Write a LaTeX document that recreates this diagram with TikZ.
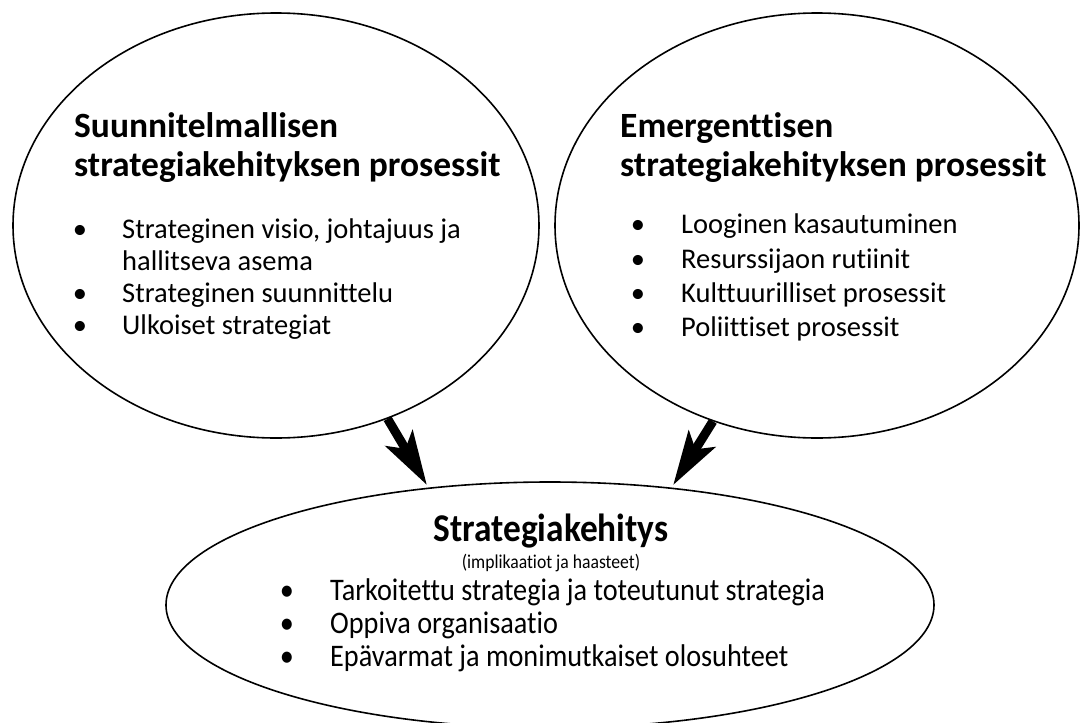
\documentclass[tikz,border=0pt]{standalone}
\usepackage{fontspec}
\setmainfont{Carlito}[Ligatures=NoCommon]
\newfontfamily\narrowfont[FakeStretch=0.9,Ligatures=NoCommon]{Carlito}
\usetikzlibrary{shapes.geometric,arrows.meta}

\tikzset{
  oval/.style={draw, ellipse, line width=1.6pt, inner sep=0pt},
  head/.style={anchor=base west, inner sep=0pt, font=\fontsize{35.5}{40}\selectfont\bfseries},
  item/.style={anchor=base west, inner sep=0pt, font=\fontsize{28.5}{34}\selectfont},
  dot/.style={anchor=base, inner sep=0pt, font=\fontsize{28.5}{34}\selectfont},
  devitem/.style={anchor=base west, inner sep=0pt, font=\narrowfont\fontsize{31.4}{36}\selectfont},
  devdot/.style={anchor=base, inner sep=0pt, font=\narrowfont\fontsize{31.4}{36}\selectfont},
  bigarrow/.style={line width=9pt, -{Stealth[length=54pt,width=31pt,inset=12pt]}}
}

\begin{document}
\begin{tikzpicture}[x=1pt,y=-1pt]
\useasboundingbox (0,0) rectangle (1080,723);
% the three ovals
\node[oval, minimum width=526pt, minimum height=425pt] (plan) at (276,225.5) {};
\node[oval, minimum width=524pt, minimum height=425pt] (emerg) at (817,225.5) {};
\node[oval, minimum width=768pt, minimum height=246pt] (dev) at (550,605) {};
% left oval
\node[head] (planh1) at (74,137) {Suunnitelmallisen};
\node[head] (planh2) at (74,176) {strategiakehityksen prosessit};
\foreach \n/\y/\t in {1/238/{Strateginen visio, johtajuus ja},
                      3/302/{Strateginen suunnittelu},
                      4/334/{Ulkoiset strategiat}}
    {\node[dot] (planb\n) at (80,\y) {\textbullet};
    \node[item] (plani\n) at (122,\y) {\t};}
\node[item] (plani2) at (122,270) {hallitseva asema};
% right oval
\node[head] (emergh1) at (620,137) {Emergenttisen};
\node[head] (emergh2) at (620,176) {strategiakehityksen prosessit};
\foreach \n/\y/\t in {1/233/{Looginen kasautuminen},
                      2/268/{Resurssijaon rutiinit},
                      3/302/{Kulttuurilliset prosessit},
                      4/336/{Poliittiset prosessit}}
    {\node[dot] (emergb\n) at (638,\y) {\textbullet};
    \node[item] (emergi\n) at (681,\y) {\t};}
% bottom oval
\node[anchor=base, inner sep=0pt, font=\narrowfont\fontsize{39.3}{42}\selectfont\bfseries] (devh) at (551,541) {Strategiakehitys};
\node[anchor=base, inner sep=0pt, font=\narrowfont\fontsize{19.6}{22}\selectfont] (devsub) at (551,568) {(implikaatiot ja haasteet)};
\foreach \n/\y/\t in {1/600/{Tarkoitettu strategia ja toteutunut strategia},
                      2/633/{Oppiva organisaatio},
                      3/666/{Epävarmat ja monimutkaiset olosuhteet}}
    {\node[devdot] (devb\n) at (287,\y) {\textbullet};
    \node[devitem] (devi\n) at (330,\y) {\t};}
% arrows
\draw[bigarrow, shorten >=3pt] (plan.-60) -- (dev.136);
\draw[bigarrow, shorten >=3pt] (emerg.-118) -- (dev.44);
\end{tikzpicture}
\end{document}
